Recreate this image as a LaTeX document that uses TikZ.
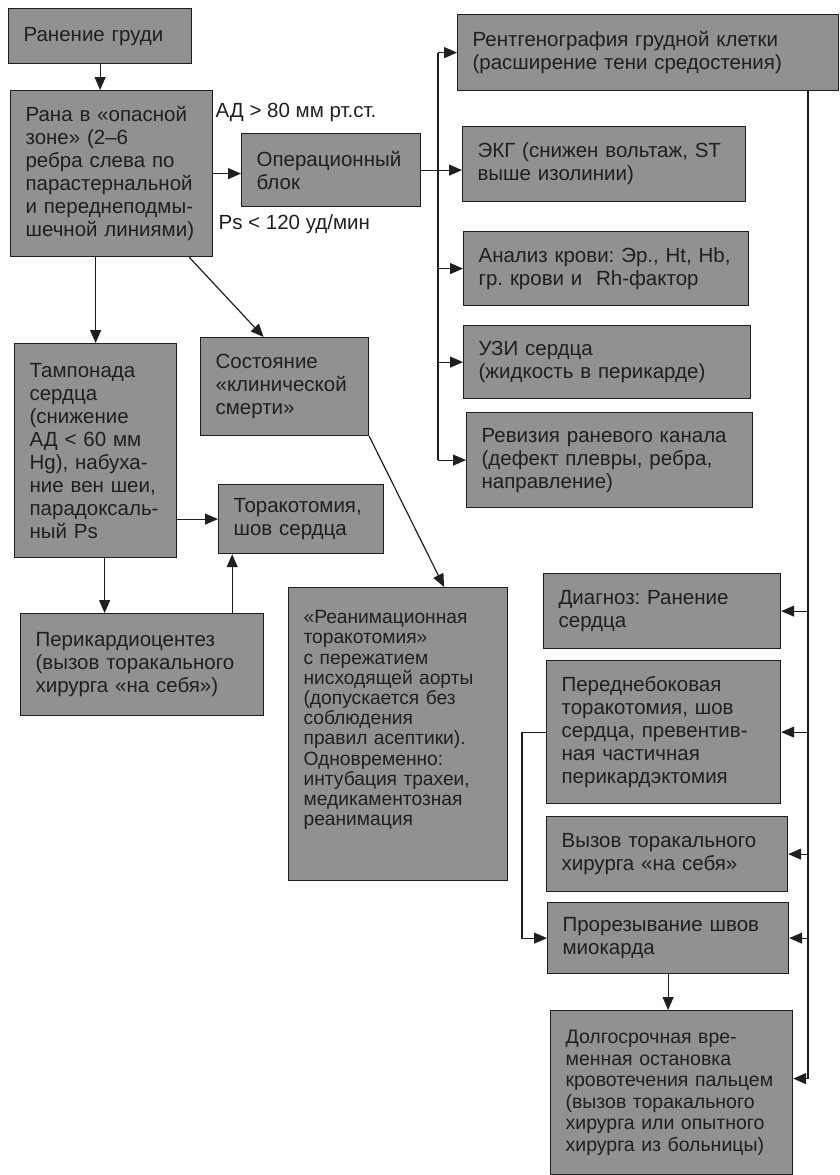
\documentclass[tikz,border=0pt]{standalone}
\usepackage{fontspec}
\setmainfont{Liberation Sans}
\usetikzlibrary{arrows.meta}
\definecolor{boxgray}{gray}{0.57}
\definecolor{inkdark}{gray}{0.12}

\begin{document}
\begin{tikzpicture}[x=1pt,y=-1pt,font=\fontsize{20.5}{23}\selectfont\frenchspacing,->,>={Triangle[length=13pt,width=11pt]},line width=1.2pt,draw=inkdark]

	\tikzset{node box/.style={draw=inkdark, fill=boxgray, text=inkdark,
			anchor=north west, align=left, inner xsep=0pt, inner ysep=0pt,
			execute at begin node={\leftskip=15pt}}}
	\tikzset{node lbl/.style={anchor=west, inner sep=0pt, text=inkdark}}

	\useasboundingbox (0,0) rectangle (839,1175);

	\node[node box, text width=183pt, minimum height=55pt] (ranenie) at (8,8) {Ранение груди};
	\node[node box, text width=202pt, minimum height=166pt] (rana) at (10,90) {Рана в «опасной\\зоне» (2–6\\ребра слева по\\парастернальной\\и переднеподмы-\\шечной линиями)};
	\node[node box, text width=179pt, minimum height=73pt] (opblok) at (241,133) {Операционный\\блок};
	\node[node lbl] (ad) at (215,112) {АД > 80 мм рт.ст.};
	\node[node lbl] (ps) at (218,224) {Ps < 120 уд/мин};

	\node[node box, text width=381pt, minimum height=76pt] (rentgen) at (457,14) {Рентгенография грудной клетки\\(расширение тени средостения)};
	\node[node box, text width=283pt, minimum height=75pt] (ekg) at (462,126) {ЭКГ (снижен вольтаж, ST\\выше изолинии)};
	\node[node box, text width=285pt, minimum height=74pt] (analiz) at (463,231) {Анализ крови: Эр., Ht, Hb,\\гр. крови и\ \ Rh-фактор};
	\node[node box, text width=287pt, minimum height=73pt] (uzi) at (463,325) {УЗИ сердца\\(жидкость в перикарде)};
	\node[node box, text width=286pt, minimum height=95pt] (reviz) at (466,412) {Ревизия раневого канала\\(дефект плевры, ребра,\\направление)};

	\node[node box, text width=168pt, minimum height=98pt] (sost) at (200,337) {Состояние\\«клинической\\смерти»};
	\node[node box, text width=162pt, minimum height=214pt] (tampon) at (14,343) {Тампонада\\сердца\\(снижение\\АД < 60 мм\\Hg), набуха-\\ние вен шеи,\\парадоксаль-\\ный Ps};
	\node[node box, text width=165pt, minimum height=69pt] (torako) at (218,484) {Торакотомия,\\шов сердца};
	\node[node box, text width=243pt, minimum height=102pt] (perikard) at (20,613) {Перикардиоцентез\\(вызов торакального\\хирурга «на себя»)};
	% text sits high in this box: pad the bottom
	\node[node box, text width=219pt, minimum height=293pt, font=\fontsize{19.2}{20.2}\selectfont] (reanim) at (288,587) {«Реанимационная\\торакотомия»\\с пережатием\\нисходящей аорты\\(допускается без\\соблюдения\\правил асептики).\\Одновременно:\\интубация трахеи,\\медикаментозная\\реанимация\\[12pt]\mbox{}};

	\node[node box, text width=237pt, minimum height=75pt] (diagnoz) at (543,573) {Диагноз: Ранение\\сердца};
	\node[node box, text width=234pt, minimum height=143pt] (peredne) at (546,660) {Переднебоковая\\торакотомия, шов\\сердца, превентив-\\ная частичная\\перикардэктомия};
	\node[node box, text width=241pt, minimum height=75pt] (vyzov) at (546,816) {Вызов торакального\\хирурга «на себя»};
	\node[node box, text width=241pt, minimum height=71pt] (prorez) at (547,902) {Прорезывание швов\\миокарда};
	\node[node box, text width=242pt, minimum height=164pt, font=\fontsize{19.5}{21.5}\selectfont] (dolgo) at (550,1010) {Долгосрочная вре-\\менная остановка\\кровотечения пальцем\\(вызов торакального\\хирурга или опытного\\хирурга из больницы)};

	\coordinate (busL) at (438,0);
	\coordinate (busR) at (808,0);
	\coordinate (tp) at ([xshift=9pt]tampon.south);
	\coordinate (pk) at ([xshift=-32pt]perikard.north east);
	\coordinate (dl) at ([yshift=14pt]dolgo.east);

	\draw (ranenie.south) -- (ranenie.south |- rana.north);
	\draw (rana.east) -- (rana.east -| opblok.west);
	\draw (opblok.east) -- (opblok.east -| ekg.west);
	\draw (rana.south -| tampon.north) -- (tampon.north);
	\draw ([xshift=-24pt]rana.south east) -- ([xshift=-21pt]sost.north);
	\draw (torako.west -| tampon.east) -- (torako.west);
	\draw (tp) -- (tp |- perikard.north);
	\draw (pk) -- (pk |- torako.south);
	\draw (sost.south east) -- ([xshift=46pt]reanim.north);

	\draw[-] (busL |- rentgen.west) -- (busL |- reviz.west);
	\foreach \n in {rentgen, analiz, uzi, reviz} {
		\draw (busL |- \n.west) -- (\n.west);
	};

	\draw[-] (busR |- rentgen.south) -- (busR |- dl);
	\foreach \n in {diagnoz, peredne, vyzov, prorez} {
		\draw (busR |- \n.east) -- (\n.east);
	};
	\draw (busR |- dl) -- (dl);

	\draw (peredne.west) -- ++(-24,0) |- (prorez.west);
	\draw (prorez.south) -- (prorez.south |- dolgo.north);

\end{tikzpicture}
\end{document}
